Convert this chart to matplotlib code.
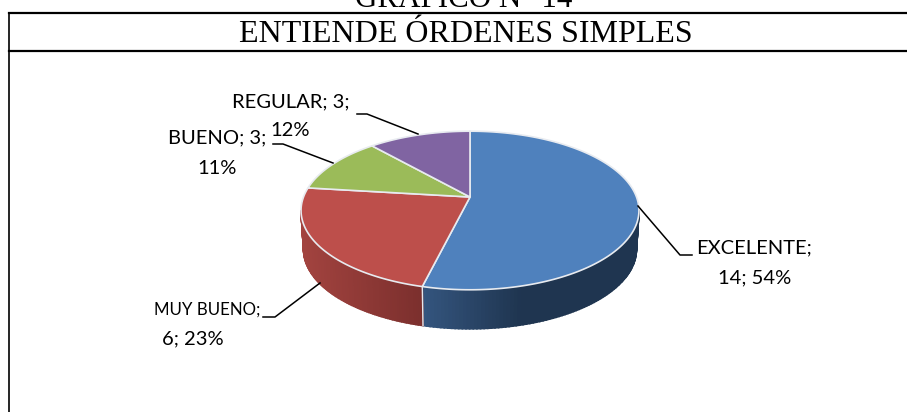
import numpy as np
import matplotlib
matplotlib.use('Agg')
import matplotlib.pyplot as plt
from matplotlib.colors import to_rgb

# datos del grafico
categorias = ['EXCELENTE', 'MUY BUENO', 'BUENO', 'REGULAR']
valores = [14, 6, 3, 3]
porcentajes = [54, 23, 11, 12]
colores = ['#4f81bd', '#bd4f4b', '#9bbb59', '#8064a2']

titulo_sup = 'GRÁFICO N° 14'
titulo = 'ENTIENDE ÓRDENES SIMPLES'

# geometria de la torta en pixeles (perspectiva)
cx, cy = 470, 197
rx, ry = 166.5, 77
k = 0.17
alto = 39


def proyectar(theta, baja=0, escala=1.0):
    w = 1 + k * np.cos(theta)
    x = cx + escala * rx * np.sin(theta) / w
    y = cy + baja - ry * np.cos(theta) / w
    return x, y


fig = plt.figure(figsize=(9.07, 4.12), dpi=100)
ax = fig.add_axes([0, 0, 1, 1])
ax.set_xlim(0, 907)
ax.set_ylim(412, 0)
ax.axis('off')

# marco
ax.plot([9, 907], [13, 13], color='black', lw=1.6)
ax.plot([9, 907], [51, 51], color='black', lw=1.6)
ax.plot([9, 9], [13, 412], color='black', lw=1.2)
ax.text(463.5, 7, titulo_sup, family='Liberation Serif', fontsize=22.3,
        ha='center', va='baseline')
ax.text(466, 42, titulo, family='Liberation Serif', fontsize=23,
        ha='center', va='baseline')

# angulos de cada porcion (desde arriba, sentido horario)
limites = np.radians(np.cumsum([0] + valores) / sum(valores) * 360)

# pared lateral con degrade
t_izq = 2 * np.pi - np.arccos(-k)
t_der = np.arccos(-k)
paradas = {0: ([423, 520], ['#34557e', '#1f3550']),
           1: ([302, 422], ['#a2433f', '#7b2f2d'])}
for i, (xs_p, cols_p) in paradas.items():
    t0 = max(limites[i], t_der)
    t1 = min(limites[i + 1], t_izq)
    ts = np.linspace(t0, t1, 90)
    c0, c1 = np.array(to_rgb(cols_p[0])), np.array(to_rgb(cols_p[1]))
    for a, b in zip(ts[:-1], ts[1:]):
        xa, ya = proyectar(a)
        xb, yb = proyectar(b)
        xa2, ya2 = proyectar(a, alto, 0.985)
        xb2, yb2 = proyectar(b, alto, 0.985)
        f = np.clip((0.5 * (xa + xb) - xs_p[0]) / (xs_p[1] - xs_p[0]), 0, 1)
        col = c0 + (c1 - c0) * f
        ax.fill([xa, xb, xb2, xa2], [ya, yb, yb2, ya2], facecolor=col,
                edgecolor=col, lw=1.2, zorder=2)

# arista vertical entre azul y rojo
xa, ya = proyectar(limites[1])
xb, yb = proyectar(limites[1], alto, 0.985)
ax.plot([xa, xb], [ya, yb], color='#e4e8ee', lw=1, zorder=3)

# cara superior
for i in range(len(valores)):
    ts = np.linspace(limites[i], limites[i + 1], 200)
    xs, ys = proyectar(ts)
    ax.fill(np.r_[cx, xs], np.r_[cy, ys], facecolor=colores[i],
            edgecolor='#e8ebf0', lw=1.2, zorder=4)

# lineas guia
guias = [[(638, 206), (680, 255), (692, 255)],
         [(320, 283), (275, 317), (263, 317)],
         [(333, 163), (283, 144), (273, 144)],
         [(418, 134), (367, 114), (357, 114)]]
for g in guias:
    gx, gy = zip(*g)
    ax.plot(gx, gy, color='black', lw=1.1, zorder=5)

# etiquetas
fuente = dict(family='Lato', fontsize=14.5, ha='center', va='center', color='black', zorder=6)
ax.text(754, 248, categorias[0] + ';', **fuente)
ax.text(755, 278, f'{valores[0]}; {porcentajes[0]}%', **fuente)
ax.text(207, 310, categorias[1] + ';', **{**fuente, 'fontsize': 12.2})
ax.text(193, 339, f'{valores[1]}; {porcentajes[1]}%', **fuente)
ax.text(217, 138, categorias[2] + f'; {valores[2]};', **fuente)
ax.text(217, 168, f'{porcentajes[2]}%', **fuente)
ax.text(291, 102, categorias[3] + f'; {valores[3]};', **fuente)
ax.text(290, 131, f'{porcentajes[3]}%', **fuente)

fig.savefig('out.png', dpi=100)
